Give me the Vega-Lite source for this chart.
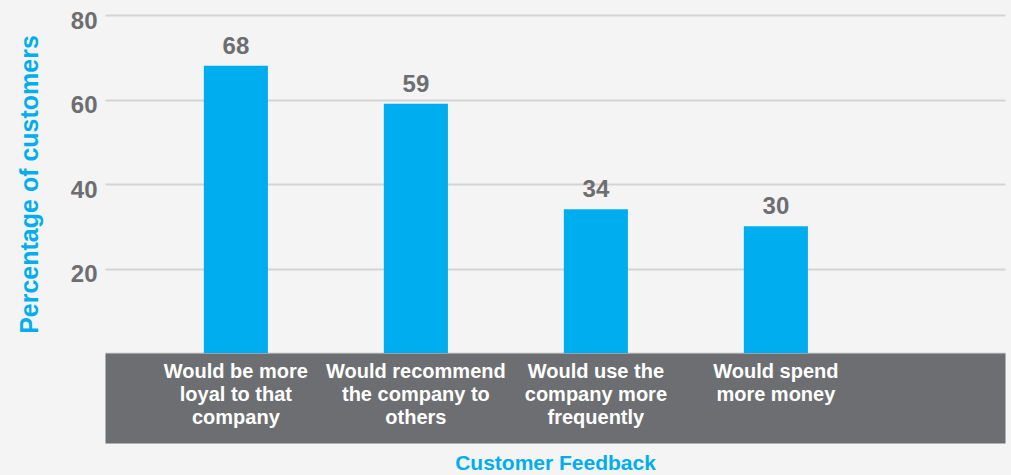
{
  "$schema": "https://vega.github.io/schema/vega-lite/v6.json",
  "width": 900,
  "height": 338,
  "autosize": {"type": "none"},
  "padding": {"left": 105, "top": 15, "right": 6, "bottom": 122},
  "background": "#f4f4f4",
  "config": {"view": {"stroke": null}, "font": "Liberation Sans"},
  "data": {
    "values": [
      {"feedback": "Would be more\nloyal to that\ncompany", "pct": 68},
      {"feedback": "Would recommend\nthe company to\nothers", "pct": 59},
      {"feedback": "Would use the\ncompany more\nfrequently", "pct": 34},
      {"feedback": "Would spend\nmore money", "pct": 30}
    ]
  },
  "encoding": {
    "x": {
      "field": "feedback",
      "type": "nominal",
      "sort": null,
      "scale": {"paddingInner": 0.644, "paddingOuter": 0.822, "align": 0.334},
      "axis": {
        "title": "Customer Feedback",
        "labels": false,
        "ticks": false,
        "tickSize": 0,
        "domainColor": "#6d6e71",
        "domainWidth": 90,
        "domainCap": "butt",
        "offset": 45,
        "titleColor": "#00aeef",
        "titleFontSize": 21,
        "titleFontWeight": "bold",
        "titleBaseline": "top",
        "titleY": 54
      }
    },
    "y": {
      "field": "pct",
      "type": "quantitative",
      "scale": {"domain": [0, 80], "nice": false},
      "axis": {
        "title": "Percentage of customers",
        "values": [0, 20, 40, 60, 80],
        "labelExpr": "datum.value == 0 ? '' : datum.label",
        "grid": true,
        "gridColor": "#d4d4d4",
        "gridWidth": 2,
        "domain": false,
        "ticks": false,
        "labelColor": "#6d6e71",
        "labelFontSize": 24,
        "labelFontWeight": "bold",
        "labelPadding": 8,
        "labelOffset": 6,
        "titleColor": "#00aeef",
        "titleFontSize": 25,
        "titleFontWeight": "bold",
        "titlePadding": 28
      }
    }
  },
  "layer": [
    {"mark": {"type": "bar", "color": "#00aeef"}},
    {
      "mark": {"type": "text", "baseline": "bottom", "dy": -7, "fontSize": 24, "fontWeight": "bold", "color": "#6d6e71"},
      "encoding": {"text": {"field": "pct", "type": "quantitative"}}
    },
    {
      "mark": {"type": "text", "baseline": "top", "align": "center", "dy": 9, "fontSize": 20, "fontWeight": "bold", "color": "white", "lineBreak": "\n", "lineHeight": 23},
      "encoding": {
        "y": {"datum": 0},
        "text": {"field": "feedback", "type": "nominal"}
      }
    }
  ]
}
